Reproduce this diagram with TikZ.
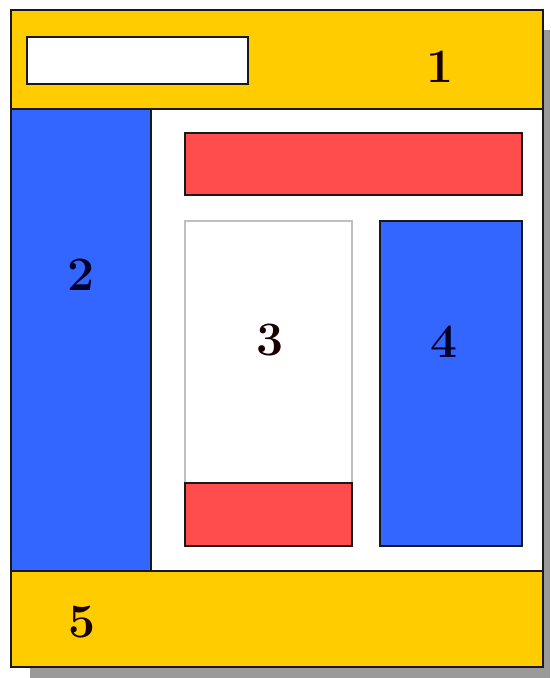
\documentclass[tikz,border=0pt]{standalone}
\usepackage{tikz}
\usetikzlibrary{positioning}

\definecolor{hdryellow}{HTML}{FFCC00}
\definecolor{colblue}{HTML}{3366FF}
\definecolor{barred}{HTML}{FF4D4D}
\definecolor{shadowgray}{HTML}{9A9A9A}

\begin{document}
\begin{tikzpicture}[
  x=1pt, y=-1pt,
  panel/.style={draw=black!90, line width=2pt},
  inner/.style={draw=black!90, line width=1.8pt},
  blank/.style={draw=black!25, line width=1.4pt, fill=white},
  num/.style={font=\fontsize{48}{48}\selectfont\bfseries, text=black!90!red, inner sep=0pt},
]

\useasboundingbox (0,0) rectangle (550,678);

% shadow
\fill[shadowgray] (30,30) rectangle (550,678);

% page frame
\fill[white] (11,10) rectangle (543,667);

% header
\draw[panel, fill=hdryellow] (11,10) rectangle (543,109);
\draw[inner, fill=white] (27,37) rectangle (248,84);

% left column
\draw[panel, fill=colblue] (11,109) rectangle (151,571);

% content area
\draw[inner, fill=barred] (185,133) rectangle (522,195);
\draw[blank] (185,221) rectangle (352,546);
\draw[inner, fill=barred] (185,483) rectangle (352,546);

% right column
\draw[inner, fill=colblue] (380,221) rectangle (522,546);

% footer
\draw[panel, fill=hdryellow] (11,571) rectangle (543,667);

% outer border
\draw[panel] (11,10) rectangle (543,667);

% labels
\node[num] (lbl1) at (440,67)  {1};
\node[num, text=black!85!blue] (lbl2) at (81,275)  {2};
\node[num] (lbl3) at (270,340) {3};
\node[num, text=black!85!blue] (lbl4) at (444,342) {4};
\node[num] (lbl5) at (82,622)  {5};

\end{tikzpicture}
\end{document}
